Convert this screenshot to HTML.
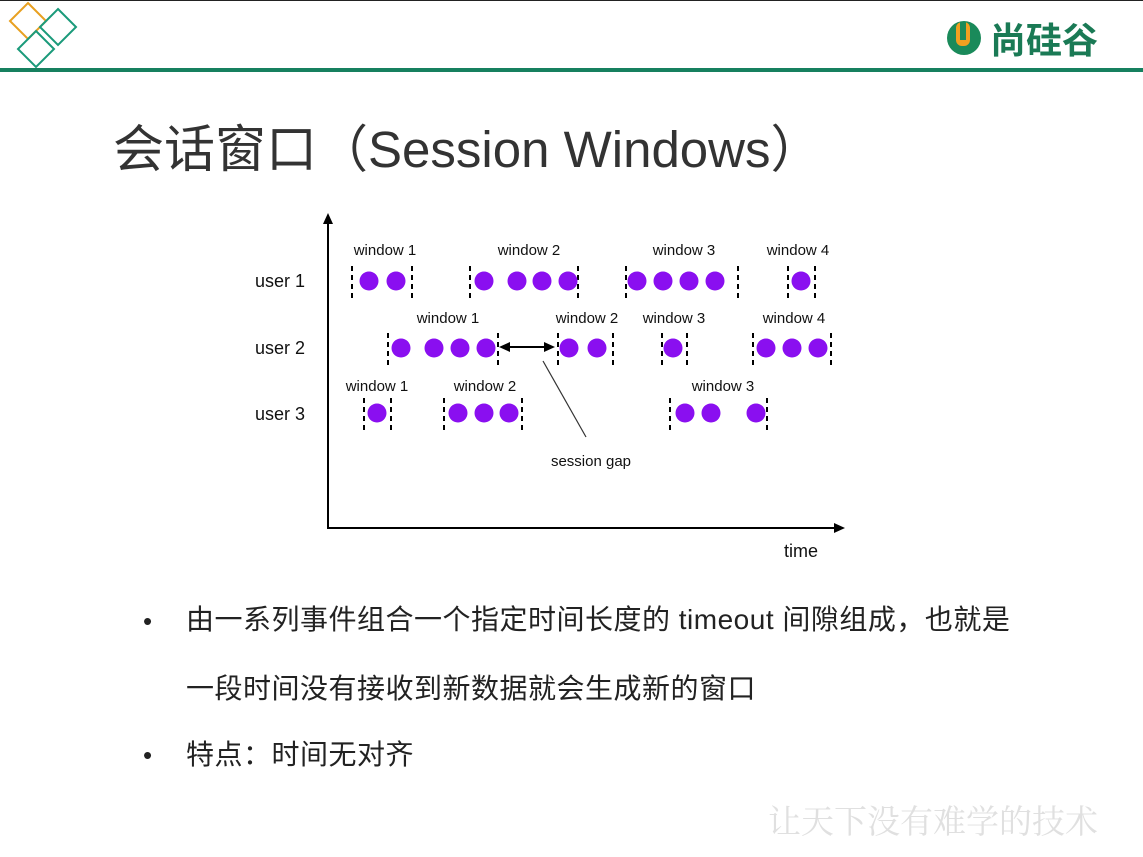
<!DOCTYPE html>
<html><head><meta charset="utf-8"><style>
body{margin:0;width:1143px;height:857px;background:#fff;overflow:hidden;font-family:"Liberation Sans","Noto Sans CJK SC",sans-serif;position:relative}
.t{position:absolute;white-space:nowrap}
</style></head><body>
<div style="position:absolute;left:0;top:0;width:1143px;height:1px;background:#222"></div>
<div style="position:absolute;left:0;top:68px;width:1143px;height:4px;background:#16805f"></div>
<svg width="1143" height="857" style="position:absolute;left:0;top:0">
<g fill="none" stroke-width="2">
<polygon points="28,3 46,21 28,39 10,21" stroke="#e8a020"/>
<polygon points="58,9 76,27 58,45 40,27" stroke="#1a9a7a"/>
<polygon points="36,31 54,49 36,67 18,49" stroke="#1a9a7a"/>
</g>
<circle cx="964" cy="38" r="17" fill="#1a8a5a"/>
<rect x="956" y="22" width="14" height="24" rx="6" fill="#f0a020"/>
<rect x="960" y="22" width="6" height="18" fill="#1a8a5a"/>
<g stroke="#000" stroke-width="2">
<line x1="328" y1="222" x2="328" y2="529"/>
<line x1="327" y1="528" x2="836" y2="528"/>
</g>
<polygon points="328,213 323,224 333,224" fill="#000"/>
<polygon points="845,528 834,523 834,533" fill="#000"/>
<g stroke="#000" stroke-width="2" stroke-dasharray="5,4">
<line x1="352" y1="266" x2="352" y2="298"/><line x1="412" y1="266" x2="412" y2="298"/>
<line x1="470" y1="266" x2="470" y2="298"/><line x1="578" y1="266" x2="578" y2="298"/>
<line x1="626" y1="266" x2="626" y2="298"/><line x1="738" y1="266" x2="738" y2="298"/>
<line x1="788" y1="266" x2="788" y2="298"/><line x1="815" y1="266" x2="815" y2="298"/>
<line x1="388" y1="333" x2="388" y2="365"/><line x1="498" y1="333" x2="498" y2="365"/>
<line x1="558" y1="333" x2="558" y2="365"/><line x1="613" y1="333" x2="613" y2="365"/>
<line x1="662" y1="333" x2="662" y2="365"/><line x1="687" y1="333" x2="687" y2="365"/>
<line x1="753" y1="333" x2="753" y2="365"/><line x1="831" y1="333" x2="831" y2="365"/>
<line x1="364" y1="398" x2="364" y2="430"/><line x1="391" y1="398" x2="391" y2="430"/>
<line x1="444" y1="398" x2="444" y2="430"/><line x1="522" y1="398" x2="522" y2="430"/>
<line x1="670" y1="398" x2="670" y2="430"/><line x1="767" y1="398" x2="767" y2="430"/>
</g>
<g fill="#8a0ff0">
<circle cx="369" cy="281" r="9.5"/><circle cx="396" cy="281" r="9.5"/>
<circle cx="484" cy="281" r="9.5"/><circle cx="517" cy="281" r="9.5"/><circle cx="542" cy="281" r="9.5"/><circle cx="568" cy="281" r="9.5"/>
<circle cx="637" cy="281" r="9.5"/><circle cx="663" cy="281" r="9.5"/><circle cx="689" cy="281" r="9.5"/><circle cx="715" cy="281" r="9.5"/>
<circle cx="801" cy="281" r="9.5"/>
<circle cx="401" cy="348" r="9.5"/><circle cx="434" cy="348" r="9.5"/><circle cx="460" cy="348" r="9.5"/><circle cx="486" cy="348" r="9.5"/>
<circle cx="569" cy="348" r="9.5"/><circle cx="597" cy="348" r="9.5"/>
<circle cx="673" cy="348" r="9.5"/>
<circle cx="766" cy="348" r="9.5"/><circle cx="792" cy="348" r="9.5"/><circle cx="818" cy="348" r="9.5"/>
<circle cx="377" cy="413" r="9.5"/>
<circle cx="458" cy="413" r="9.5"/><circle cx="484" cy="413" r="9.5"/><circle cx="509" cy="413" r="9.5"/>
<circle cx="685" cy="413" r="9.5"/><circle cx="711" cy="413" r="9.5"/><circle cx="756" cy="413" r="9.5"/>
</g>
<line x1="506" y1="347" x2="548" y2="347" stroke="#000" stroke-width="2"/>
<polygon points="499,347 510,342 510,352" fill="#000"/>
<polygon points="555,347 544,342 544,352" fill="#000"/>
<line x1="543" y1="361" x2="586" y2="437" stroke="#333" stroke-width="1.2"/>
<g font-family="Liberation Sans,sans-serif" font-size="15" fill="#111" text-anchor="middle">
<text x="385" y="255">window 1</text><text x="529" y="255">window 2</text><text x="684" y="255">window 3</text><text x="798" y="255">window 4</text>
<text x="448" y="323">window 1</text><text x="587" y="323">window 2</text><text x="674" y="323">window 3</text><text x="794" y="323">window 4</text>
<text x="377" y="391">window 1</text><text x="485" y="391">window 2</text><text x="723" y="391">window 3</text>
<text x="591" y="466">session gap</text>
</g>
<g font-family="Liberation Sans,sans-serif" font-size="18" fill="#111">
<text x="255" y="287">user 1</text><text x="255" y="354">user 2</text><text x="255" y="420">user 3</text>
<text x="784" y="557">time</text>
</g>
</svg>
<div class="t" style="left:990px;top:16px;font-size:36px;font-weight:bold;color:#1a7a55;font-family:'Noto Sans CJK SC',sans-serif;line-height:44px">尚硅谷</div>
<div class="t" style="left:113px;top:118px;font-size:51px;color:#333;line-height:64px">会话窗口（Session Windows）</div>
<div class="t" style="left:143px;top:603px;font-size:26px;color:#222;line-height:36px">•</div>
<div class="t" style="left:186px;top:602px;font-size:28px;color:#222;line-height:36px;letter-spacing:0.5px">由一系列事件组合一个指定时间长度的 timeout 间隙组成，也就是</div>
<div class="t" style="left:186px;top:671px;font-size:28px;color:#222;line-height:36px;letter-spacing:0.5px">一段时间没有接收到新数据就会生成新的窗口</div>
<div class="t" style="left:143px;top:737px;font-size:26px;color:#222;line-height:36px">•</div>
<div class="t" style="left:186px;top:737px;font-size:28px;color:#222;line-height:36px;letter-spacing:0.5px">特点：时间无对齐</div>
<div class="t" style="left:768px;top:800px;font-size:33px;color:#e0e0e0;line-height:40px;font-family:'Noto Serif CJK SC',serif">让天下没有难学的技术</div>
</body></html>
